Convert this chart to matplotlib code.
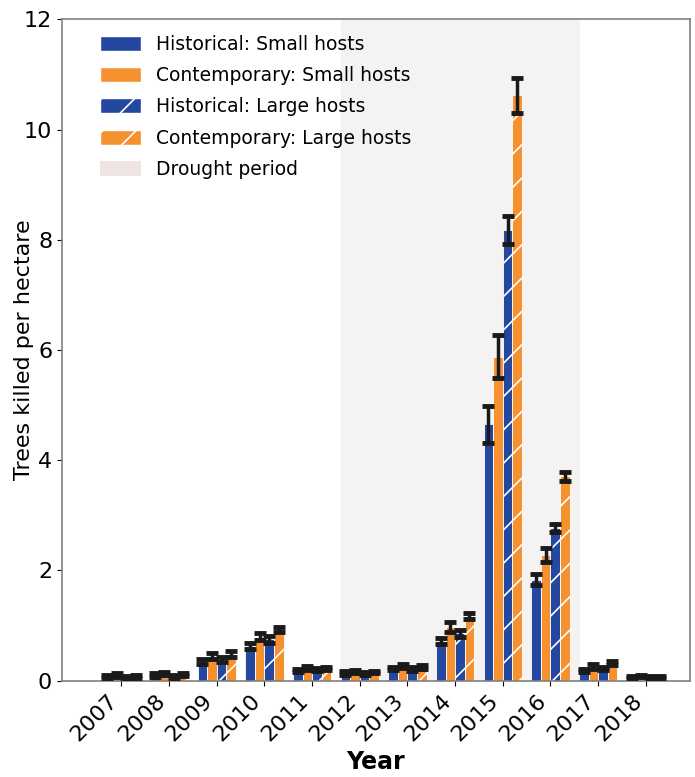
import numpy as np
import matplotlib
matplotlib.use("Agg")
import matplotlib.pyplot as plt
from matplotlib.patches import Patch

years = ["2007", "2008", "2009", "2010", "2011", "2012",
         "2013", "2014", "2015", "2016", "2017", "2018"]

# trees killed per hectare, means and error half-widths
hist_small = [0.08, 0.10, 0.35, 0.63, 0.19, 0.14, 0.22, 0.72, 4.65, 1.83, 0.19, 0.07]
hist_small_err = [0.03, 0.03, 0.05, 0.06, 0.03, 0.03, 0.03, 0.06, 0.33, 0.10, 0.03, 0.02]
cont_small = [0.10, 0.13, 0.45, 0.80, 0.23, 0.16, 0.27, 0.98, 5.88, 2.28, 0.26, 0.08]
cont_small_err = [0.03, 0.03, 0.05, 0.07, 0.03, 0.03, 0.04, 0.09, 0.39, 0.12, 0.04, 0.02]
hist_large = [0.06, 0.08, 0.38, 0.75, 0.20, 0.13, 0.21, 0.86, 8.18, 2.77, 0.22, 0.06]
hist_large_err = [0.02, 0.03, 0.05, 0.06, 0.03, 0.02, 0.03, 0.06, 0.25, 0.07, 0.03, 0.02]
cont_large = [0.08, 0.11, 0.48, 0.93, 0.22, 0.15, 0.25, 1.17, 10.62, 3.71, 0.32, 0.07]
cont_large_err = [0.03, 0.03, 0.05, 0.05, 0.03, 0.02, 0.03, 0.05, 0.32, 0.08, 0.04, 0.02]

blue = "#2447a0"
orange = "#f5922f"

plt.rcParams["hatch.color"] = "white"
plt.rcParams["hatch.linewidth"] = 1.2

fig, ax = plt.subplots(figsize=(6.95, 7.77), dpi=100)
fig.subplots_adjust(left=0.089, right=0.993, top=0.975, bottom=0.124)

x = np.arange(len(years))
w = 0.2
series = [
    (hist_small, hist_small_err, blue, None),
    (cont_small, cont_small_err, orange, None),
    (hist_large, hist_large_err, blue, "/"),
    (cont_large, cont_large_err, orange, "/"),
]
for i, (vals, errs, col, hatch) in enumerate(series):
    ax.bar(x - 0.3 + i * w, vals, w, color=col, edgecolor="white", linewidth=0.6,
           hatch=hatch, zorder=2)
    ax.errorbar(x - 0.3 + i * w, vals, yerr=errs, fmt="none", ecolor="#1a1a1a",
                elinewidth=2.5, capsize=4, capthick=3.5, zorder=3)

ax.axvspan(4.6, 9.6, color="#f4f3f2", zorder=0)

ax.set_xlim(-1.25, 11.93)
ax.set_ylim(0, 12)
ax.set_xticks(x)
ax.set_xticklabels(years, rotation=45, ha="right", fontsize=16)
ax.tick_params(axis="y", labelsize=16)
ax.set_xlabel("Year", fontsize=17, fontweight="bold")
ax.set_ylabel("Trees killed per hectare", fontsize=16)
ax.yaxis.set_label_coords(-0.045, 0.5)
for s in ax.spines.values():
    s.set_color("#808080")
    s.set_linewidth(1.2)

handles = [
    Patch(facecolor=blue, edgecolor="white", label="Historical: Small hosts"),
    Patch(facecolor=orange, edgecolor="white", label="Contemporary: Small hosts"),
    Patch(facecolor=blue, edgecolor="white", hatch="/", label="Historical: Large hosts"),
    Patch(facecolor=orange, edgecolor="white", hatch="/", label="Contemporary: Large hosts"),
    Patch(facecolor="#efe4e4", label="Drought period"),
]
ax.legend(handles=handles, loc="upper left", bbox_to_anchor=(0.04, 0.997),
          frameon=False, fontsize=13.5, handlelength=2.2, handleheight=0.85,
          labelspacing=0.66, borderaxespad=0.3)

plt.savefig("out.png", dpi=100)
